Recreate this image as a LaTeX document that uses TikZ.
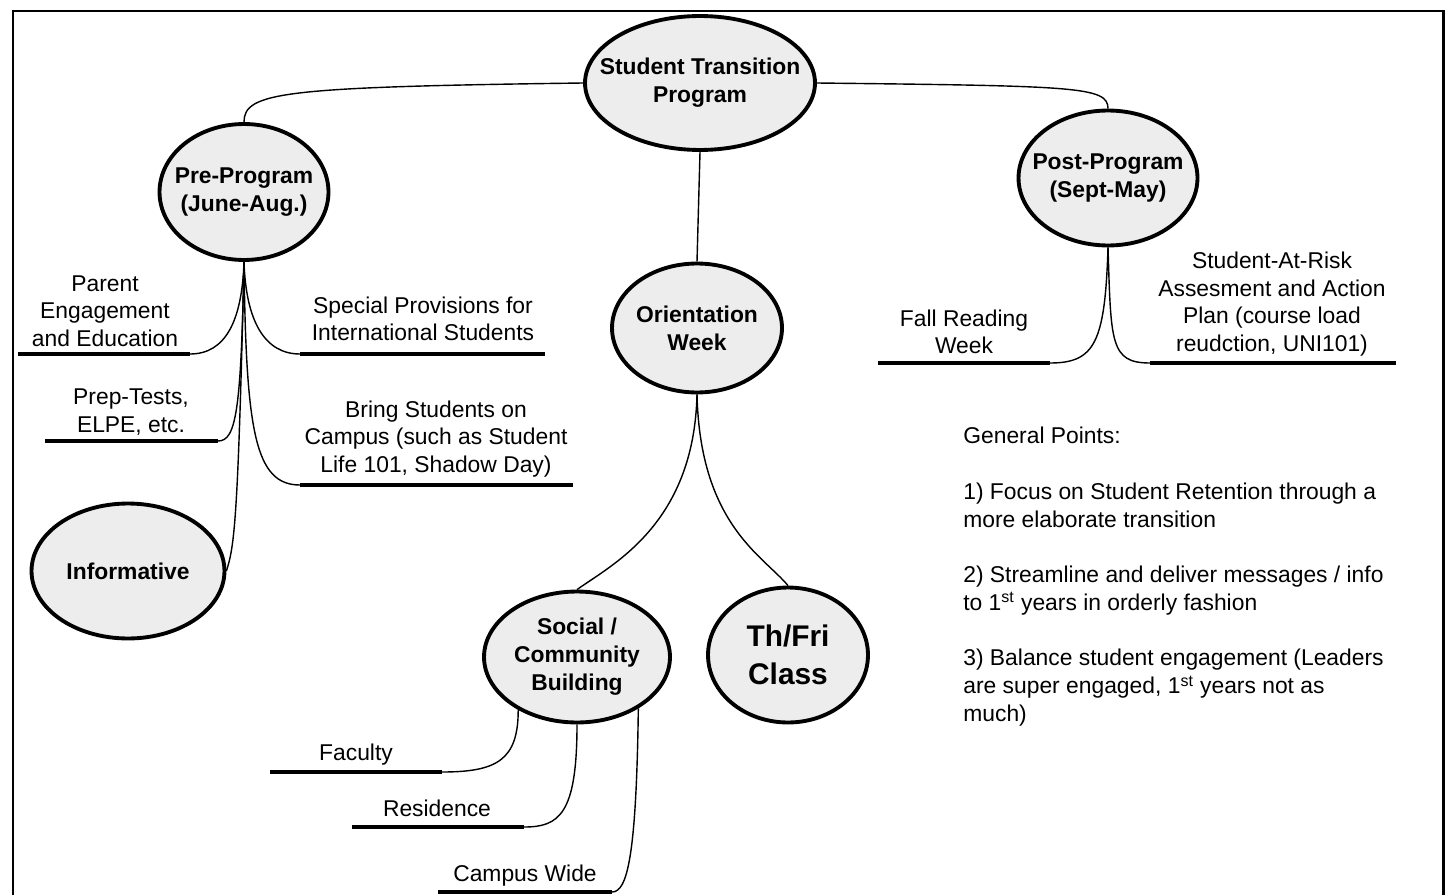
\documentclass[tikz,border=0pt]{standalone}
\usepackage{fontspec}
\setmainfont{Liberation Sans}
\usetikzlibrary{shapes.geometric}

\tikzset{
  bubble/.style={ellipse, draw, line width=2.2pt, fill=black!7, align=center, inner sep=-40pt,
    font=\bfseries\fontsize{13}{16}\selectfont},
  twig/.style={line width=0.8pt},
  bar/.style={line width=2.8pt},
  lbl/.style={align=center, inner sep=0pt, font=\fontsize{13}{15.6}\selectfont},
}

\begin{document}
\begin{tikzpicture}[x=0.02cm, y=-0.02cm]
\useasboundingbox (0,0) rectangle (1456,895);
% frame
\draw[line width=1.7pt] (13,900) -- (13,11) -- (1443,11) -- (1443,900);

% bubbles
\node[bubble, minimum width=4.6cm, minimum height=2.68cm] (stp) at (700,83) {Student Transition\\Program};
\node[bubble, minimum width=3.38cm, minimum height=2.72cm] (pre) at (244,192) {Pre-Program\\(June-Aug.)};
\node[bubble, minimum width=3.58cm, minimum height=2.7cm] (post) at (1108,178) {Post-Program\\(Sept-May)};
\node[bubble, minimum width=3.4cm, minimum height=2.58cm] (ow) at (697,328) {Orientation\\Week};
\node[bubble, minimum width=3.86cm, minimum height=2.7cm] (info) at (128,571) {Informative};
\node[bubble, minimum width=3.72cm, minimum height=2.62cm] (soc) at (577,657) {Social /\\Community\\Building};
\node[bubble, minimum width=3.2cm, minimum height=2.7cm, font=\bfseries\fontsize{17}{21.5}\selectfont] (thf) at (788,655) {Th/Fri\\Class};

% labels
\node[lbl] (parTxt) at (105,311) {Parent\\Engagement\\and Education};
\node[lbl] (spcTxt) at (423,319) {Special Provisions for\\International Students};
\node[lbl] (prepTxt) at (131,412) {Prep-Tests,\\ELPE, etc.};
\node[lbl] (brgTxt) at (436,439) {Bring Students on\\Campus (such as Student\\Life 101, Shadow Day)};
\node[lbl] (fallTxt) at (964,332) {Fall Reading\\Week};
\node[lbl] (sarTxt) at (1272,304) {Student-At-Risk\\Assesment and Action\\Plan (course load\\reudction, UNI101)};
\node[lbl] (facTxt) at (356,755) {Faculty};
\node[lbl] (resTxt) at (437,808) {Residence};
\node[lbl] (camTxt) at (525,876) {Campus Wide};
\node[lbl, align=left, anchor=north west, font=\fontsize{13}{15.8}\selectfont] (genTxt) at (963,427)
  {General Points:\\[15.8pt]
   1) Focus on Student Retention through a\\more elaborate transition\\[15.8pt]
   2) Streamline and deliver messages / info\\to 1\textsuperscript{st} years in orderly fashion\\[15.8pt]
   3) Balance student engagement (Leaders\\are super engaged, 1\textsuperscript{st} years not as\\much)};

% underlines
\coordinate (parL) at (18,354);   \coordinate (parR) at (190,354);
\coordinate (spcL) at (300,354);  \coordinate (spcR) at (545,354);
\coordinate (prepL) at (45,441);  \coordinate (prepR) at (218,441);
\coordinate (brgL) at (300,485);  \coordinate (brgR) at (573,485);
\coordinate (fallL) at (878,363); \coordinate (fallR) at (1050,363);
\coordinate (sarL) at (1150,363); \coordinate (sarR) at (1396,363);
\coordinate (facL) at (270,772);  \coordinate (facR) at (442,772);
\coordinate (resL) at (352,827);  \coordinate (resR) at (524,827);
\coordinate (camL) at (438,892);  \coordinate (camR) at (612,892);
\foreach \u in {par,spc,prep,brg,fall,sar,fac,res,cam}
  \draw[bar] (\u L) -- (\u R);

% connectors
\draw[twig] (stp.west) .. controls +(-300,4) and +(0,-30) .. (pre.north);
\draw[twig] (stp.east) .. controls +(260,3) and +(0,-22) .. (post.north);
\draw[twig] (stp.south) -- (ow.north);

\draw[twig] (pre.south) .. controls +(-2,60) and +(35,0) .. (parR);
\draw[twig] (pre.south) .. controls +(2,60) and +(-35,0) .. (spcL);
\draw[twig] (pre.south) .. controls +(-3,150) and +(18,0) .. (prepR);
\draw[twig] (pre.south) .. controls +(2,170) and +(-45,0) .. (brgL);
\draw[twig] (pre.south) .. controls +(-6,260) and +(8,-25) .. (info.east);

\draw[twig] (ow.south) .. controls +(-3,130) and +(35,-25) .. (soc.north);
\draw[twig] (ow.south) .. controls +(3,130) and +(-25,-30) .. (thf.north);

\draw[twig] (soc.-138) .. controls +(0,50) and +(55,0) .. (facR);
\draw[twig] (soc.south) .. controls +(0,90) and +(35,0) .. (resR);
\draw[twig] (soc.-40) .. controls +(-2,150) and +(15,0) .. (camR);

\draw[twig] (post.south) .. controls +(-3,95) and +(45,0) .. (fallR);
\draw[twig] (post.south) .. controls +(3,95) and +(-40,0) .. (sarL);
\end{tikzpicture}
\end{document}
